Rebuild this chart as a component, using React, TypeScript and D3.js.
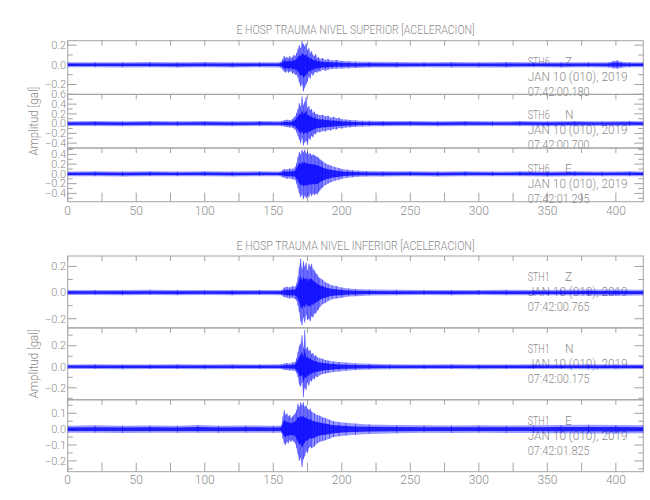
import React from 'react';
import * as d3 from 'd3';

type Env = [number, number, number]; // [time s, max, min]

const T_MAX = 420;
const X_TICKS = [0, 50, 100, 150, 200, 250, 300, 350, 400];
const X_MINOR = [0, 25, 50, 75, 100, 125, 150, 175, 200, 225, 250, 275, 300, 325, 350, 375, 400];

const TITLE_SUP = 'E HOSP TRAUMA NIVEL SUPERIOR [ACELERACION]';
const TITLE_INF = 'E HOSP TRAUMA NIVEL INFERIOR [ACELERACION]';
const Y_LABEL = 'Amplitud [gal]';
const COMPONENTS = ['Z', 'N', 'E'];
const DATE_LABEL = 'JAN 10 (010), 2019';
const STATION_SUP = 'STH6';
const STATION_INF = 'STH1';
const TIMES_SUP = ['07:42:00.180', '07:42:00.700', '07:42:01.295'];
const TIMES_INF = ['07:42:00.765', '07:42:00.175', '07:42:01.825'];

const DOM_SUP: [number, number][] = [[-0.30, 0.245], [-0.5, 0.6], [-0.57, 0.53]];
const DOM_INF: [number, number][] = [[-0.27, 0.28], [-0.314, 0.369], [-0.268, 0.185]];
const TICKS_SUP = [[-0.2, 0, 0.2], [-0.4, -0.2, 0, 0.2, 0.4, 0.6], [-0.4, -0.2, 0, 0.2, 0.4]];
const TICKS_INF = [[-0.2, 0, 0.2], [-0.2, 0, 0.2], [-0.2, -0.1, 0, 0.1]];
const MINOR_SUP = [0.1, 0.1, 0.1];
const MINOR_INF = [0.1, 0.1, 0.05];

const SUP_Z: Env[] = [
  [0, 0.025, -0.024], [20, 0.027, -0.025], [40, 0.025, -0.026], [60, 0.028, -0.025], [80, 0.026, -0.027],
  [100, 0.028, -0.025], [120, 0.025, -0.027], [140, 0.027, -0.025], [155, 0.026, -0.026],
  [157, 0.06, -0.05], [158, 0.09, -0.07], [159, 0.07, -0.08], [160, 0.08, -0.06], [161, 0.065, -0.08],
  [162, 0.09, -0.07], [163, 0.07, -0.065], [164, 0.08, -0.09], [165, 0.1, -0.08], [166, 0.09, -0.1],
  [167, 0.12, -0.1], [168, 0.16, -0.13], [169, 0.2, -0.18], [170, 0.17, -0.22], [171, 0.24, -0.2],
  [172, 0.21, -0.27], [173, 0.19, -0.23], [174, 0.22, -0.2], [175, 0.15, -0.17], [176, 0.17, -0.12],
  [177, 0.12, -0.14], [178, 0.14, -0.09], [179, 0.1, -0.11], [180, 0.09, -0.08], [181, 0.11, -0.07],
  [182, 0.07, -0.08], [183, 0.08, -0.06], [184, 0.06, -0.07], [186, 0.07, -0.05], [188, 0.05, -0.06],
  [190, 0.06, -0.05], [193, 0.045, -0.042], [196, 0.05, -0.04], [200, 0.04, -0.038], [205, 0.037, -0.035],
  [210, 0.033, -0.032], [220, 0.03, -0.028], [240, 0.028, -0.027], [260, 0.026, -0.025], [280, 0.028, -0.026],
  [300, 0.025, -0.026], [320, 0.028, -0.027], [340, 0.027, -0.025], [360, 0.025, -0.027], [380, 0.027, -0.025],
  [395, 0.027, -0.027], [398, 0.04, -0.035], [401, 0.045, -0.04], [404, 0.03, -0.03], [410, 0.027, -0.025],
  [420, 0.025, -0.025],
];

const SUP_N: Env[] = [
  [0, 0.05, -0.048], [20, 0.052, -0.05], [40, 0.05, -0.052], [60, 0.053, -0.05], [80, 0.05, -0.05],
  [100, 0.052, -0.05], [120, 0.05, -0.052], [140, 0.052, -0.05], [156, 0.05, -0.05],
  [158, 0.07, -0.06], [160, 0.08, -0.07], [162, 0.07, -0.08], [164, 0.09, -0.08], [165, 0.12, -0.1],
  [166, 0.15, -0.12], [167, 0.22, -0.18], [168, 0.3, -0.25], [169, 0.42, -0.33], [170, 0.35, -0.4],
  [171, 0.56, -0.3], [172, 0.38, -0.45], [173, 0.45, -0.38], [174, 0.55, -0.35], [175, 0.32, -0.44],
  [176, 0.36, -0.3], [177, 0.28, -0.33], [178, 0.3, -0.25], [179, 0.22, -0.28], [180, 0.25, -0.2],
  [181, 0.19, -0.22], [182, 0.2, -0.17], [184, 0.17, -0.18], [186, 0.18, -0.15], [188, 0.15, -0.16],
  [190, 0.16, -0.13], [192, 0.12, -0.14], [194, 0.14, -0.11], [196, 0.11, -0.12], [198, 0.12, -0.09],
  [200, 0.09, -0.1], [203, 0.085, -0.08], [206, 0.075, -0.075], [210, 0.068, -0.065], [215, 0.06, -0.058],
  [220, 0.058, -0.055], [230, 0.055, -0.052], [250, 0.052, -0.05], [270, 0.05, -0.052], [290, 0.053, -0.05],
  [310, 0.05, -0.05], [330, 0.052, -0.05], [350, 0.05, -0.052], [370, 0.052, -0.05], [390, 0.05, -0.05],
  [410, 0.052, -0.05], [420, 0.05, -0.05],
];

const SUP_E: Env[] = [
  [0, 0.05, -0.05], [20, 0.052, -0.05], [40, 0.05, -0.052], [60, 0.052, -0.05], [80, 0.05, -0.05],
  [100, 0.053, -0.05], [120, 0.05, -0.052], [140, 0.052, -0.05], [155, 0.05, -0.05],
  [157, 0.08, -0.07], [158, 0.1, -0.08], [160, 0.09, -0.1], [162, 0.11, -0.09], [164, 0.1, -0.11],
  [166, 0.14, -0.12], [167, 0.22, -0.2], [168, 0.35, -0.3], [169, 0.45, -0.4], [170, 0.4, -0.48],
  [171, 0.5, -0.42], [172, 0.44, -0.52], [173, 0.5, -0.45], [174, 0.42, -0.5], [175, 0.46, -0.44],
  [176, 0.4, -0.48], [177, 0.43, -0.4], [178, 0.38, -0.46], [179, 0.4, -0.4], [180, 0.38, -0.44],
  [181, 0.36, -0.4], [182, 0.35, -0.42], [183, 0.33, -0.38], [184, 0.3, -0.34], [185, 0.28, -0.3],
  [186, 0.26, -0.28], [188, 0.22, -0.23], [190, 0.19, -0.2], [192, 0.17, -0.17], [195, 0.14, -0.14],
  [198, 0.12, -0.12], [200, 0.1, -0.1], [204, 0.085, -0.08], [208, 0.075, -0.07], [212, 0.065, -0.06],
  [218, 0.058, -0.055], [230, 0.055, -0.052], [250, 0.052, -0.05], [270, 0.05, -0.052], [290, 0.052, -0.05],
  [310, 0.05, -0.05], [330, 0.052, -0.05], [350, 0.05, -0.052], [370, 0.052, -0.05], [390, 0.05, -0.05],
  [410, 0.052, -0.05], [420, 0.05, -0.05],
];

const INF_Z: Env[] = [
  [0, 0.019, -0.019], [20, 0.02, -0.019], [40, 0.019, -0.02], [60, 0.021, -0.019], [80, 0.019, -0.02],
  [100, 0.02, -0.019], [120, 0.019, -0.021], [140, 0.02, -0.019], [156, 0.02, -0.02],
  [158, 0.04, -0.035], [160, 0.045, -0.04], [162, 0.04, -0.045], [164, 0.05, -0.04], [166, 0.045, -0.05],
  [167, 0.07, -0.06], [168, 0.12, -0.1], [169, 0.2, -0.15], [170, 0.26, -0.22], [171, 0.18, -0.25],
  [172, 0.24, -0.19], [173, 0.2, -0.23], [174, 0.23, -0.17], [175, 0.17, -0.21], [176, 0.22, -0.2],
  [177, 0.2, -0.22], [178, 0.22, -0.18], [179, 0.18, -0.19], [180, 0.17, -0.16], [181, 0.15, -0.16],
  [182, 0.14, -0.14], [183, 0.12, -0.13], [184, 0.11, -0.11], [186, 0.1, -0.09], [188, 0.08, -0.08],
  [190, 0.07, -0.065], [193, 0.055, -0.05], [196, 0.05, -0.045], [200, 0.04, -0.04], [205, 0.032, -0.03],
  [210, 0.028, -0.028], [220, 0.024, -0.022], [240, 0.021, -0.02], [260, 0.02, -0.019], [280, 0.019, -0.02],
  [300, 0.02, -0.019], [320, 0.021, -0.02], [340, 0.02, -0.021], [360, 0.022, -0.021], [380, 0.024, -0.023],
  [400, 0.023, -0.024], [420, 0.022, -0.022],
];

const INF_N: Env[] = [
  [0, 0.022, -0.021], [20, 0.023, -0.022], [40, 0.022, -0.023], [60, 0.022, -0.022], [80, 0.024, -0.022],
  [100, 0.022, -0.023], [120, 0.023, -0.022], [140, 0.022, -0.022], [156, 0.023, -0.022],
  [158, 0.03, -0.03], [160, 0.035, -0.03], [162, 0.03, -0.035], [164, 0.04, -0.035], [166, 0.045, -0.04],
  [167, 0.08, -0.06], [168, 0.14, -0.1], [169, 0.2, -0.17], [170, 0.22, -0.19], [171, 0.3, -0.15],
  [172, 0.18, -0.29], [173, 0.35, -0.2], [174, 0.17, -0.22], [175, 0.19, -0.15], [176, 0.15, -0.18],
  [177, 0.16, -0.13], [178, 0.12, -0.14], [179, 0.13, -0.11], [180, 0.1, -0.12], [181, 0.11, -0.09],
  [182, 0.09, -0.1], [184, 0.08, -0.08], [186, 0.075, -0.07], [188, 0.065, -0.065], [190, 0.06, -0.06],
  [194, 0.05, -0.05], [198, 0.045, -0.045], [203, 0.04, -0.038], [210, 0.033, -0.032], [220, 0.028, -0.027],
  [235, 0.024, -0.023], [260, 0.022, -0.022], [280, 0.023, -0.022], [300, 0.022, -0.023], [320, 0.022, -0.022],
  [340, 0.023, -0.022], [360, 0.022, -0.022], [380, 0.023, -0.023], [400, 0.022, -0.023], [420, 0.022, -0.022],
];

const INF_E: Env[] = [
  [0, 0.022, -0.022], [20, 0.024, -0.022], [40, 0.022, -0.024], [60, 0.023, -0.022], [80, 0.022, -0.023],
  [95, 0.027, -0.022], [110, 0.022, -0.023], [130, 0.023, -0.022], [150, 0.022, -0.023], [156, 0.023, -0.022],
  [157, 0.08, -0.06], [158, 0.12, -0.09], [159, 0.09, -0.1], [160, 0.1, -0.08], [161, 0.08, -0.09],
  [162, 0.09, -0.07], [163, 0.07, -0.08], [164, 0.08, -0.07], [165, 0.09, -0.08], [166, 0.1, -0.09],
  [167, 0.12, -0.12], [168, 0.16, -0.16], [169, 0.14, -0.2], [170, 0.17, -0.18], [171, 0.15, -0.24],
  [172, 0.17, -0.19], [173, 0.14, -0.17], [174, 0.15, -0.14], [175, 0.13, -0.15], [176, 0.12, -0.12],
  [177, 0.13, -0.11], [178, 0.11, -0.12], [180, 0.1, -0.11], [182, 0.09, -0.09], [184, 0.085, -0.08],
  [186, 0.075, -0.075], [188, 0.07, -0.07], [191, 0.06, -0.06], [194, 0.05, -0.05], [198, 0.045, -0.045],
  [203, 0.04, -0.04], [210, 0.035, -0.035], [220, 0.03, -0.03], [240, 0.026, -0.026], [260, 0.024, -0.023],
  [280, 0.023, -0.024], [300, 0.024, -0.023], [320, 0.023, -0.024], [340, 0.025, -0.024], [360, 0.026, -0.025],
  [380, 0.028, -0.027], [400, 0.027, -0.028], [420, 0.025, -0.025],
];

const TEXT = '#8c8c8c';
const AXIS = '#a3a3a3';
const BLUE = '#0000ff';
const FONT = 'Roboto, "Liberation Sans", Arial, sans-serif';

const fmt = (v: number) => d3.format('.1f')(v).replace('-', '\u2212');

interface Group {
  key: string; title: string; top: number; bottom: number; titleBase: number; xLabBase: number;
  station: string; traces: Env[][]; domains: [number, number][]; ticks: number[][]; minor: number[]; times: string[];
}

export default function App() {
  const W = 650, H = 500;
  const X0 = 67.7, X1 = 643.3;
  const x = d3.scaleLinear().domain([0, T_MAX]).range([X0, X1]);

  const groups: Group[] = [
    { key: 'sup', title: TITLE_SUP, top: 40.7, bottom: 201.7, titleBase: 34, xLabBase: 215, station: STATION_SUP,
      traces: [SUP_Z, SUP_N, SUP_E], domains: DOM_SUP, ticks: TICKS_SUP, minor: MINOR_SUP, times: TIMES_SUP },
    { key: 'inf', title: TITLE_INF, top: 256, bottom: 471.7, titleBase: 250, xLabBase: 484.3, station: STATION_INF,
      traces: [INF_Z, INF_N, INF_E], domains: DOM_INF, ticks: TICKS_INF, minor: MINOR_INF, times: TIMES_INF },
  ];

  return (
    <svg width={W} height={H} style={{ position: 'absolute', left: 0, top: 0, background: '#fff' }}
      fontFamily={FONT} fontWeight={300}>
      <rect x={0} y={0} width={W} height={H} fill="#fff" />
      {groups.map((g) => {
        const ph = (g.bottom - g.top) / 3;
        const cy = (g.top + g.bottom) / 2;
        return (
          <g key={g.key}>
            <text x={(X0 + X1) / 2} y={g.titleBase} fill={TEXT} fontSize={12.5} textAnchor="middle"
              textLength={238} lengthAdjust="spacingAndGlyphs">{g.title}</text>
            <text transform={`translate(38,${cy}) rotate(-90)`} fill={TEXT} fontSize={12.5} textAnchor="middle"
              textLength={69} lengthAdjust="spacingAndGlyphs">{Y_LABEL}</text>
            {g.traces.map((data, i) => {
              const pTop = g.top + i * ph;
              const pBot = pTop + ph;
              const dom = g.domains[i];
              const y = d3.scaleLinear().domain(dom).range([pBot, pTop]);
              const step = g.minor[i];
              const minorVals = d3.range(Math.ceil(dom[0] / step - 1e-6), Math.floor(dom[1] / step + 1e-6) + 1)
                .map((k) => k * step);
              const area = d3.area<Env>().x((d) => x(d[0])).y0((d) => y(d[2])).y1((d) => y(d[1]));
              const core = d3.area<Env>().x((d) => x(d[0])).y0((d) => y(d[2] * 0.5)).y1((d) => y(d[1] * 0.5));
              const clipId = `clip-${g.key}-${i}`;
              const isLast = i === 2;
              const infoX = 527.7;
              return (
                <g key={i}>
                  <defs>
                    <clipPath id={clipId}>
                      <rect x={X0} y={pTop} width={X1 - X0} height={pBot - pTop} />
                    </clipPath>
                  </defs>
                  <rect x={X0} y={pTop} width={X1 - X0} height={pBot - pTop} fill="none" stroke={AXIS} strokeWidth={1} />
                  {X_MINOR.map((t) => (
                    <line key={`tt${t}`} x1={x(t)} x2={x(t)} y1={pTop} y2={pTop + 5} stroke={AXIS} />
                  ))}
                  {isLast && X_MINOR.map((t) => (
                    <line key={`bt${t}`} x1={x(t)} x2={x(t)} y1={pBot} y2={pBot - 9} stroke={AXIS} />
                  ))}
                  {minorVals.map((v) => {
                    const major = g.ticks[i].some((m) => Math.abs(m - v) < 1e-6);
                    const len = major ? 9 : 5;
                    return (
                      <g key={`y${v.toFixed(3)}`}>
                        <line x1={X0} x2={X0 + len} y1={y(v)} y2={y(v)} stroke={AXIS} />
                        <line x1={X1} x2={X1 - len} y1={y(v)} y2={y(v)} stroke={AXIS} />
                      </g>
                    );
                  })}
                  {g.ticks[i].map((v) => (
                    <text key={`yl${v}`} x={66} y={y(v) + 3.8} fill={TEXT} fontSize={11} textAnchor="end">{fmt(v)}</text>
                  ))}
                  <text x={infoX} y={pTop + 25} fill={TEXT} fontSize={12} textLength={22} lengthAdjust="spacingAndGlyphs">{g.station}</text>
                  <text x={565} y={pTop + 25} fill={TEXT} fontSize={12}>{COMPONENTS[i]}</text>
                  <text x={infoX} y={pTop + 40} fill={TEXT} fontSize={12} textLength={100} lengthAdjust="spacingAndGlyphs">{DATE_LABEL}</text>
                  <text x={infoX} y={pTop + 55} fill={TEXT} fontSize={12} textLength={62} lengthAdjust="spacingAndGlyphs">{g.times[i]}</text>
                  <g clipPath={`url(#${clipId})`}>
                    <path d={area(data) || ''} fill={BLUE} fillOpacity={0.4} />
                    {data.map((d) => (
                      <line key={`v${d[0]}`} x1={x(d[0])} x2={x(d[0])} y1={y(d[2])} y2={y(d[1])}
                        stroke={BLUE} strokeOpacity={0.6} strokeWidth={0.8} />
                    ))}
                    <path d={core(data) || ''} fill={BLUE} fillOpacity={0.8} />
                  </g>
                </g>
              );
            })}
            {X_TICKS.map((t) => (
              <text key={`xl${t}`} x={x(t)} y={g.xLabBase} fill={TEXT} fontSize={12} textAnchor="middle">{t}</text>
            ))}
          </g>
        );
      })}
    </svg>
  );
}
